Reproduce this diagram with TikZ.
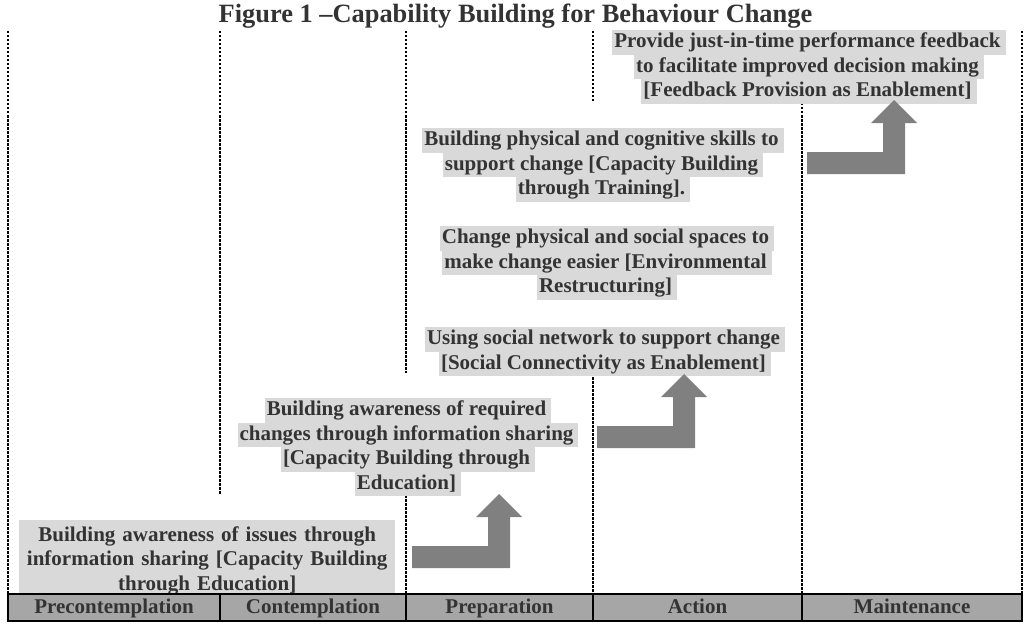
\documentclass[tikz,border=0pt]{standalone}
\usepackage{fontspec}
\setmainfont{Liberation Serif}
\definecolor{hlgray}{HTML}{D9D9D9}
\definecolor{arrowgray}{HTML}{808080}
\definecolor{rowgray}{HTML}{A6A6A6}
\definecolor{inkgray}{HTML}{333333}
\newcommand{\lstrut}{\rule[-7pt]{0pt}{24.5pt}}
\newcommand{\hl}[1]{{\setlength{\fboxsep}{0pt}\colorbox{hlgray}{\lstrut\kern2pt#1\kern5pt}}}
\tikzset{
	stageline/.style={dash pattern=on 2.5pt off 1.5pt,line width=1.1pt,black},
	blocktext/.style={align=center,inner sep=0pt,anchor=north},
	stagelabel/.style={anchor=base,inner sep=0pt},
	pics/bentarrow/.style={code={
		\fill[arrowgray] (0,0) -- (0,-22) -- (76,-22) -- (76,-51) -- (64,-51) -- (87,-74) -- (110,-51) -- (98,-51) -- (98,0) -- cycle;
	}}
}

\begin{document}
\begin{tikzpicture}[x=1pt,y=-1pt,every node/.style={font=\bfseries\fontsize{21}{24.5}\selectfont,text=inkgray}]
	\useasboundingbox (0,0) rectangle (1032,623);
	\node[anchor=base,inner sep=0pt,font=\bfseries\fontsize{26.4}{29}\selectfont] (title) at (515.5,22.5) {Figure 1 --Capability Building for Behaviour Change};
	% stage borders
	\draw[stageline] (8,31) -- (8,594);
	\draw[stageline] (220,31) -- (220,495);
	\draw[stageline] (406,31) -- (406,373);
	\draw[stageline] (406,495) -- (406,594);
	\draw[stageline] (593,31) -- (593,103);
	\draw[stageline] (593,373) -- (593,594);
	\draw[stageline] (802,103) -- (802,594);
	\draw[stageline] (1022,31) -- (1022,594);
	% steps
	\node[blocktext] (feedback) at (809,30) {\hl{Provide just-in-time performance feedback}\\\hl{to facilitate improved decision making}\\\hl{[Feedback Provision as Enablement]}};
	\node[blocktext] (training) at (603,128) {\hl{Building physical and cognitive skills to}\\\hl{support change [Capacity Building}\\\hl{through Training].}};
	\node[blocktext] (restructuring) at (607,226) {\hl{Change physical and social spaces to}\\\hl{make change easier [Environmental}\\\hl{Restructuring]}};
	\node[blocktext] (connectivity) at (605,327) {\hl{Using social network to support change}\\\hl{[Social Connectivity as Enablement]}};
	\node[blocktext] (required) at (408,398) {\hl{Building awareness of required}\\\hl{changes through information sharing}\\\hl{[Capacity Building through}\\\hl{Education]}};
	\node[anchor=north west,fill=hlgray,text width=376pt,align=center,inner xsep=0pt,inner ysep=3.5pt] (issues) at (19,520) {\lstrut Building awareness of issues through\\\lstrut information sharing [Capacity Building\\\lstrut through Education]};
	\pic at (412,568) {bentarrow};
	\pic at (597,448) {bentarrow};
	\pic at (807,174) {bentarrow};
	% stages
	\draw[line width=2.2pt,fill=rowgray] (8,594) rectangle (1022,621);
	\draw[line width=2.2pt] (220,594) -- (220,621);
	\draw[line width=2.2pt] (406,594) -- (406,621);
	\draw[line width=2.2pt] (593,594) -- (593,621);
	\draw[line width=2.2pt] (802,594) -- (802,621);
	\node[stagelabel] (precontemplation) at (114,613) {Precontemplation};
	\node[stagelabel] (contemplation) at (313,613) {Contemplation};
	\node[stagelabel] (preparation) at (499.5,613) {Preparation};
	\node[stagelabel] (action) at (697.5,613) {Action};
	\node[stagelabel] (maintenance) at (912,613) {Maintenance};
\end{tikzpicture}
\end{document}
